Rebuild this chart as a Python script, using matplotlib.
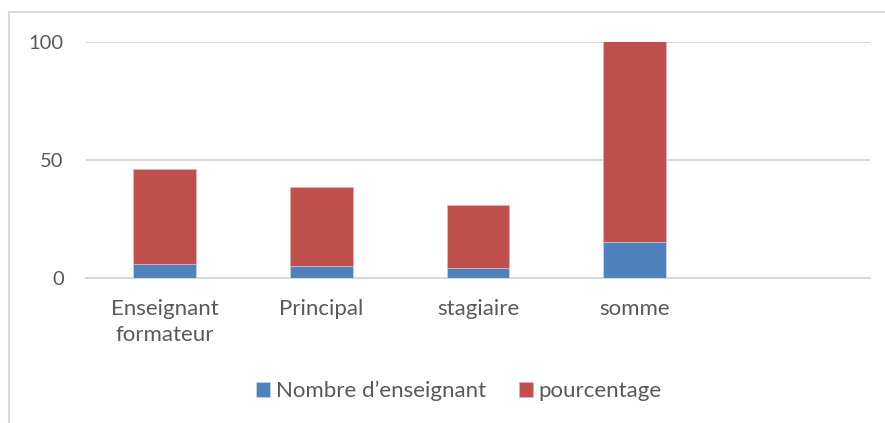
import numpy as np
import matplotlib.pyplot as plt
from matplotlib.lines import Line2D

categories = ["Enseignant\nformateur", "Principal", "stagiaire", "somme", ""]
nombre = [6, 5, 4, 15, 0]
pourcentage = [40, 33.33, 26.67, 100, 0]

plt.rcParams['font.family'] = ['Lato', 'DejaVu Sans']
text_color = "#595959"
grid_color = "#d9d9d9"

fig = plt.figure(figsize=(8.85, 4.23), dpi=100)
ax = fig.add_axes([86 / 885, 1 - 277.7 / 423, (870 - 86) / 885, (277.7 - 41.7) / 423])

x = np.arange(len(categories))
ax.bar(x, nombre, width=0.4, color="#4F81BD", edgecolor="#c9d7ea", linewidth=0.5,
       label="Nombre d\u2019enseignant", zorder=3)
ax.bar(x, pourcentage, width=0.4, bottom=nombre, color="#C0504D", edgecolor="#e4b3b2",
       linewidth=0.5, label="pourcentage", zorder=3)

ax.set_xlim(-0.5, len(categories) - 0.5)
ax.set_ylim(0, 100)
ax.set_yticks([0, 50, 100])
ax.set_xticks(x)
ax.set_xticklabels(categories, linespacing=1.4)
ax.tick_params(axis="y", length=0, labelsize=14.5, colors=text_color, pad=16)
ax.tick_params(axis="x", length=0, labelsize=16, colors=text_color, pad=15)
ax.grid(axis="y", color=grid_color, linewidth=1.5, zorder=0)
for side in ["left", "right", "top"]:
    ax.spines[side].set_visible(False)
ax.spines["bottom"].set_color(grid_color)
ax.spines["bottom"].set_linewidth(1.5)

leg = fig.legend(loc="center", bbox_to_anchor=(459 / 885, 1 - 391 / 423), ncol=2,
                 frameon=False, fontsize=16, handlelength=0.63, handleheight=0.63,
                 handletextpad=0.25, columnspacing=1.5)
for t in leg.get_texts():
    t.set_color(text_color)

# outer chart border (left and top visible)
fig.add_artist(Line2D([9 / 885, 9 / 885], [0, 1 - 12 / 423], color=grid_color, linewidth=1.5,
                      transform=fig.transFigure))
fig.add_artist(Line2D([9 / 885, 1], [1 - 12 / 423, 1 - 12 / 423], color=grid_color,
                      linewidth=1.5, transform=fig.transFigure))

fig.savefig("out.png", dpi=100)
